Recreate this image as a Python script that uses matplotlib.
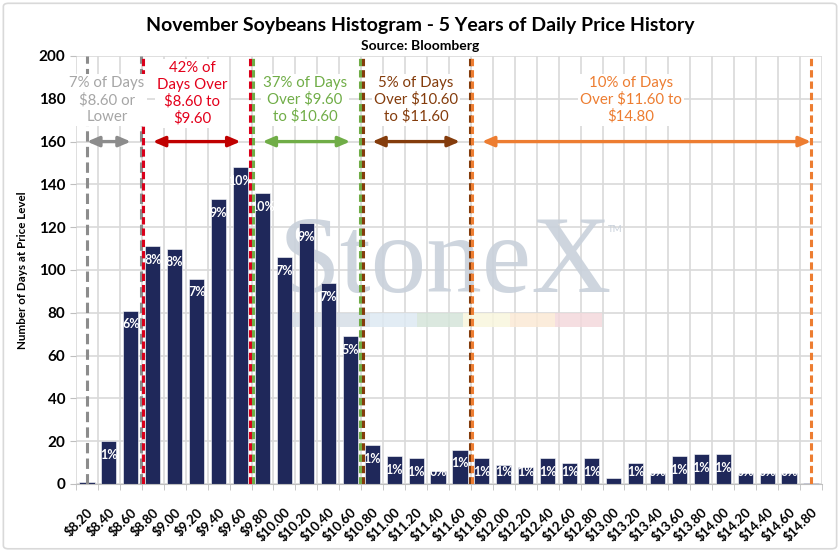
import matplotlib.pyplot as plt
from matplotlib.patches import FancyBboxPatch, Rectangle

# price buckets and number of days in each
prices = ["$8.20", "$8.40", "$8.60", "$8.80", "$9.00", "$9.20", "$9.40", "$9.60",
          "$9.80", "$10.00", "$10.20", "$10.40", "$10.60", "$10.80", "$11.00",
          "$11.20", "$11.40", "$11.60", "$11.80", "$12.00", "$12.20", "$12.40",
          "$12.60", "$12.80", "$13.00", "$13.20", "$13.40", "$13.60", "$13.80",
          "$14.00", "$14.20", "$14.40", "$14.60", "$14.80"]
days = [1, 20, 81, 111, 110, 96, 133, 148, 136, 106, 122, 94, 69, 18, 13, 12, 6,
        16, 12, 9, 8, 12, 10, 12, 3, 10, 5, 13, 14, 14, 5, 5, 5, 0.5]
pct_labels = ["", "1%", "6%", "8%", "8%", "7%", "9%", "10%", "10%", "7%", "9%",
              "7%", "5%", "1%", "1%", "1%", "0%", "1%", "1%", "1%", "1%", "1%",
              "1%", "1%", "", "1%", "0%", "1%", "1%", "1%", "0%", "0%", "0%", ""]

# price zones: first / last bucket index, text, colour
zone_first = [0, 3, 8, 13, 18]
zone_last = [2, 7, 12, 17, 33]
zone_text = ["7% of Days\n$8.60 or\nLower",
             "42% of\nDays Over\n$8.60 to\n$9.60",
             "37% of Days\nOver $9.60\nto $10.60",
             "5% of Days\nOver $10.60\nto $11.60",
             "10% of Days\nOver $11.60 to\n$14.80"]
zone_color = ["#8c8c8c", "#d9001b", "#70ad47", "#843c0c", "#ed7d31"]
arrow_color = ["#8c8c8c", "#c00000", "#70ad47", "#843c0c", "#ed7d31"]
zone_text_color = ["#a6a6a6", "#e3001b", "#70ad47", "#843c0c", "#ed7d31"]
zone_text_x = [0.91, 4.79, 9.94, 15.0, 24.8]

FONT = "Lato"
plt.rcParams["font.family"] = [FONT, "DejaVu Sans"]

fig = plt.figure(figsize=(8.4, 5.51), dpi=100)
fig.patches.append(FancyBboxPatch((0.004, 0.004), 0.992, 0.99,
                                  boxstyle="round,pad=0,rounding_size=0.006",
                                  transform=fig.transFigure, fc="white",
                                  ec="#d9d9d9", lw=1.2, zorder=-5))

ax = fig.add_axes([0.0905, 0.1216, 0.888, 0.7768])
ax.set_facecolor("none")
x = list(range(len(prices)))

# StoneX watermark behind the bars
ax.text(0.272, (484 - 292) / 428, "StoneX", transform=ax.transAxes,
        family="Liberation Serif", fontsize=80, color="#c9d1db", alpha=0.9,
        ha="left", va="baseline", zorder=0.8)
ax.text(0.713, (484 - 232) / 428, "TM", transform=ax.transAxes, fontsize=7,
        color="#c9d1db", zorder=0.8)
strip_cols = ["#d6dee7", "#dde9f3", "#d5e5da", "#f8f6dd", "#fbe9d5", "#f4d9dc"]
strip_x = [292, 370, 417, 463, 510, 555, 602]
for i, c in enumerate(strip_cols):
    ax.add_patch(Rectangle(((strip_x[i] - 76) / 746, (484 - 327) / 428),
                           (strip_x[i + 1] - strip_x[i]) / 746, 14 / 428,
                           transform=ax.transAxes, fc=c, ec="none", alpha=0.85,
                           zorder=0.8))

bars = ax.bar(x, days, width=0.69, color="#1f285a", edgecolor="white",
              linewidth=0.4, zorder=2)
for xi, v, lab in zip(x, days, pct_labels):
    if lab:
        ax.text(xi, max(v - 6.4, 5.5), lab, ha="center", va="center",
                color="white", fontsize=9, fontweight="bold", zorder=3)

# dashed zone boundaries
line_x = [0, 2.44, 2.56, 7.44, 7.56, 12.44, 12.56, 17.44, 17.56, 33]
line_c = [zone_color[0], zone_color[0], zone_color[1], zone_color[1], zone_color[2],
          zone_color[2], zone_color[3], zone_color[3], zone_color[4], zone_color[4]]
for lx, lc in zip(line_x, line_c):
    dash = (3.4, 1.7) if lc == zone_color[0] else (2.4, 1.3)
    ax.plot([lx, lx], [0, 200], color=lc, lw=2.2, dashes=dash, zorder=4)

for a, b, txt, c, ac, tc, tx in zip(zone_first, zone_last, zone_text, zone_color,
                                    arrow_color, zone_text_color, zone_text_x):
    ax.annotate("", xy=(b, 160), xytext=(a, 160),
                arrowprops=dict(arrowstyle="<|-|>,head_length=0.7,head_width=0.3",
                                color=ac, lw=2.4, shrinkA=0, shrinkB=0), zorder=5)
    ax.text(tx, 179.5 if txt.count("\n") == 2 else 182.5, txt, ha="center",
            va="center", color=tc, fontsize=10.8, linespacing=1.22, zorder=5,
            bbox=dict(fc="white", ec="none", pad=1.5))

ax.set_xlim(-0.5, len(prices) - 0.5)
ax.set_ylim(0, 200)
ax.set_yticks(range(0, 201, 20))
ax.set_xticks(x)
ax.set_xticklabels(prices, rotation=45, ha="right", va="top",
                   rotation_mode="anchor", fontsize=9.5, fontweight="bold")
ax.set_xticks([i - 0.5 for i in range(len(prices) + 1)], minor=True)
ax.tick_params(axis="x", which="major", length=0, pad=16)
ax.tick_params(axis="x", which="minor", length=4, color="#bfbfbf")
ax.tick_params(axis="y", length=4, color="#bfbfbf", labelsize=11)
for t in ax.get_yticklabels():
    t.set_fontweight("bold")
ax.grid(axis="y", color="#d9d9d9", lw=1.2, zorder=0)
ax.grid(axis="x", which="minor", color="#d9d9d9", lw=1.2, zorder=0)
ax.set_axisbelow(True)
for s in ["top", "right", "left"]:
    ax.spines[s].set_visible(False)
ax.spines["bottom"].set_color("#bfbfbf")

ax.set_ylabel("Number of Days at Price Level", fontsize=8.4, fontweight="bold")
ax.yaxis.set_label_coords(-0.064, 0.5)

fig.text(0.5, 0.953, "November Soybeans Histogram - 5 Years of Daily Price History",
         ha="center", va="center", fontsize=14, fontweight="bold")
fig.text(0.5, 0.916, "Source: Bloomberg", ha="center", va="center",
         fontsize=10, fontweight="bold")

fig.savefig("out.png", dpi=100)
